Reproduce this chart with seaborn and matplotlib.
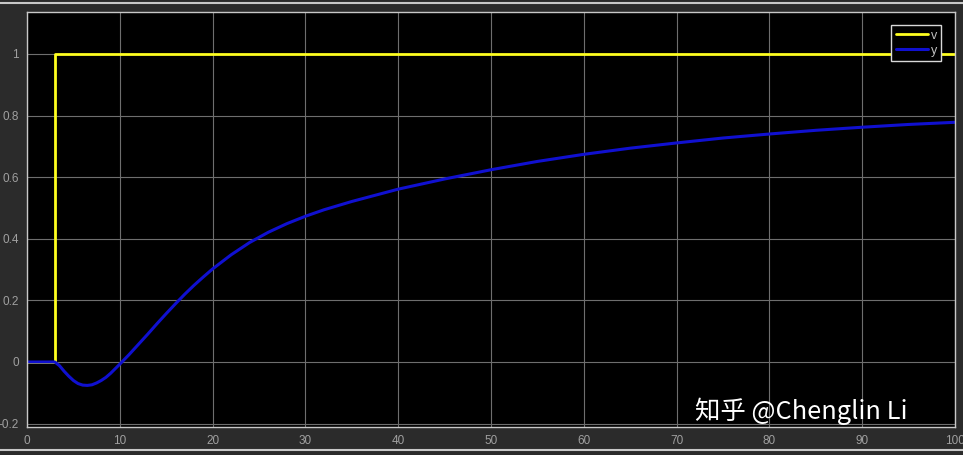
import matplotlib

matplotlib.use("Agg")

import matplotlib.pyplot as plt
import pandas as pd
import seaborn as sns

# step input v
v_t = [0, 3, 3, 100]
v_val = [0, 0, 1, 1]

# response y
y_t = [0, 1, 2, 3, 3.5, 4, 4.5, 5, 5.5, 6, 6.5, 7, 7.5, 8, 8.5, 9, 9.5, 10,
       11, 12, 13, 14, 15, 16, 17, 18, 19, 20, 22, 24, 26, 28, 30, 32, 35,
       40, 45, 50, 55, 60, 65, 70, 75, 80, 85, 90, 95, 100]
y_val = [0, 0, 0, 0, -0.012, -0.03, -0.046, -0.06, -0.07, -0.075, -0.076,
         -0.074, -0.068, -0.06, -0.05, -0.037, -0.022, -0.007,
         0.024, 0.057, 0.09, 0.124, 0.157, 0.189, 0.22, 0.249, 0.276, 0.302,
         0.348, 0.388, 0.421, 0.449, 0.473, 0.494, 0.521,
         0.561, 0.594, 0.624, 0.651, 0.674, 0.694, 0.711, 0.727, 0.74,
         0.752, 0.762, 0.771, 0.778]

x_ticks = [0, 10, 20, 30, 40, 50, 60, 70, 80, 90, 100]
y_ticks = [-0.2, 0, 0.2, 0.4, 0.6, 0.8, 1]
y_tick_labels = ["-0.2", "0", "0.2", "0.4", "0.6", "0.8", "1"]

sns.set_style("dark")
plt.rcParams["font.family"] = ["Liberation Sans", "DejaVu Sans"]

fig = plt.figure(figsize=(9.63, 4.55), dpi=100, facecolor="#2b2b2b")
ax = fig.add_axes([27 / 963, 28 / 455, 928 / 963, 415 / 455])
ax.set_facecolor("black")

v_df = pd.DataFrame({"t": v_t, "val": v_val})
y_df = pd.DataFrame({"t": y_t, "val": y_val})
sns.lineplot(data=v_df, x="t", y="val", ax=ax, color="#ffff1f", lw=2,
             estimator=None, sort=False, label="v")
sns.lineplot(data=y_df, x="t", y="val", ax=ax, color="#1010d0", lw=2.2,
             estimator=None, sort=False, label="y")

ax.set_xlim(0, 100)
ax.set_ylim(-0.211, 1.136)
ax.set_xticks(x_ticks)
ax.set_yticks(y_ticks)
ax.set_yticklabels(y_tick_labels)
ax.set_xlabel("")
ax.set_ylabel("")
ax.grid(True, color="#6e6e6e", lw=0.8)
ax.tick_params(colors="#a8a8a8", labelsize=8.5, direction="in", length=4,
               pad=6, labelcolor="#a0a0a0")
for s in ax.spines.values():
    s.set_color("#c8c8c8")
    s.set_linewidth(1)

leg = ax.legend(loc="upper right", bbox_to_anchor=(0.992, 0.983),
                facecolor="black", edgecolor="#d8d8d8", framealpha=1,
                fontsize=9, handlelength=2.6, borderpad=0.35, labelspacing=0.25,
                handletextpad=0.2, fancybox=False)
for txt in leg.get_texts():
    txt.set_color("#c0c0c0")

fig.text(0.722, 0.08, "知乎 @Chenglin Li", color="white", fontsize=18.3,
         family=["Noto Sans CJK SC", "DejaVu Sans"])

# light frame lines of the scope window
fig.add_artist(plt.Line2D([0, 1], [0.993, 0.993], color="#c8c8c8", lw=1.5))
fig.add_artist(plt.Line2D([0, 1], [0.01, 0.01], color="#c8c8c8", lw=1.5))

fig.savefig("out.png", dpi=100, facecolor=fig.get_facecolor())
